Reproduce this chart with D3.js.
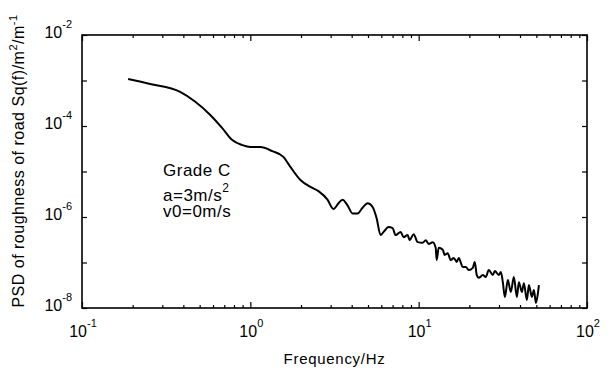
<!DOCTYPE html>
<html>
<head>
<meta charset="utf-8">
<script src="https://cdn.jsdelivr.net/npm/d3@7"></script>
<style>
  body { margin: 0; background: #fff; overflow: hidden; }
  svg { display: block; }
  text { font-family: "Liberation Sans", Arial, sans-serif; fill: #000; }
</style>
</head>
<body>
<div class="chart"></div>
<script>
const width = 611
const height = 369

// frequency (Hz) and PSD values
const freq = [0.188, 0.254, 0.383, 0.471, 0.578, 0.681, 0.781, 0.896, 1.00, 1.147,
    1.352, 1.572, 1.730, 1.984, 2.276, 2.540, 2.873, 3.119, 3.341, 3.528,
    3.780, 4.047, 4.335, 4.642, 4.972, 5.324, 5.623, 5.939, 6.188, 6.628,
    7.000, 7.297, 7.814, 8.142, 8.600, 8.839, 9.337, 9.863, 10.56, 11.01,
    11.47, 12.12, 12.62, 12.80, 13.15, 13.90, 14.28, 14.88, 15.51, 16.16,
    16.84, 17.30, 18.28, 19.05, 19.84, 20.96, 21.54, 22.14, 22.76, 24.04,
    25.05, 26.10, 27.57, 28.34, 29.94, 30.77, 31.62, 32.50, 33.87, 35.28,
    36.77, 38.31, 39.38, 41.04, 42.17, 43.96, 45.17, 47.06, 48.37, 49.72,
    51.09, 51.80]

const psd = [1.08e-3, 8.4e-4, 5.6e-4, 3.4e-4, 1.75e-4, 9.0e-5, 4.9e-5, 3.8e-5, 3.45e-5, 3.45e-5,
    2.8e-5, 2.1e-5, 1.26e-5, 6.5e-6, 4.6e-6, 3.7e-6, 2.4e-6, 1.5e-6, 2.0e-6, 2.4e-6,
    1.8e-6, 1.2e-6, 1.2e-6, 1.6e-6, 2.0e-6, 1.66e-6, 9.5e-7, 4.0e-7, 4.7e-7, 6.0e-7,
    5.7e-7, 4.0e-7, 4.7e-7, 3.6e-7, 4.0e-7, 3.1e-7, 4.2e-7, 2.8e-7, 2.7e-7, 3.1e-7,
    2.55e-7, 2.8e-7, 2.1e-7, 1.13e-7, 2.1e-7, 1.9e-7, 1.46e-7, 1.6e-7, 1.13e-7, 1.26e-7,
    1.03e-7, 1.26e-7, 8.0e-8, 8.0e-8, 6.8e-8, 7.6e-8, 1.03e-7, 5.3e-8, 4.6e-8, 5.3e-8,
    4.8e-8, 6.8e-8, 5.3e-8, 6.5e-8, 5.3e-8, 6.2e-8, 3.7e-8, 1.75e-8, 4.1e-8, 2.25e-8,
    4.8e-8, 1.75e-8, 3.7e-8, 2.25e-8, 3.5e-8, 1.5e-8, 3.2e-8, 1.75e-8, 2.5e-8, 1.29e-8,
    2.1e-8, 3.2e-8]

const xMajor = [0.1, 1, 10, 100]
const xExp = ["-1", "0", "1", "2"]
const yMajor = [1e-8, 1e-7, 1e-6, 1e-5, 1e-4, 1e-3, 1e-2]
const yLabeled = [1e-8, 1e-6, 1e-4, 1e-2]
const yExp = ["-8", "-6", "-4", "-2"]
const notes = ["Grade C", "a=3m/s", "v0=0m/s"]

const data = freq.map((f, i) => ({f: f, s: psd[i]}))

const margin = {top: 35, right: 24, bottom: 61, left: 82}
const innerWidth = width - margin.left - margin.right
const innerHeight = height - margin.top - margin.bottom

const svg = d3.select(".chart")
    .append("svg")
    .attr("width", width)
    .attr("height", height)

// scales in page coordinates, so all texts can sit directly in the svg
const xScale = d3.scaleLog()
    .domain([0.1, 100])
    .range([margin.left, margin.left + innerWidth])

const yScale = d3.scaleLog()
    .domain([1e-8, 1e-2])
    .range([margin.top + innerHeight, margin.top])

// minor x ticks 2..9 in every decade
const xMinor = []
xMajor.slice(0, 3).forEach(d => {
    for (let k = 2; k <= 9; k++) xMinor.push(d * k)
})

// ticks point inward, on all four sides
const tickStyle = sel => {
    sel.select("path.domain").remove()
    sel.selectAll(".tick text").remove()
    sel.selectAll(".tick line").attr("stroke", "#000").attr("stroke-width", 1.2)
}

const bottom = margin.top + innerHeight
const right = margin.left + innerWidth

svg.append("g").attr("transform", `translate(0, ${bottom})`)
    .call(d3.axisBottom(xScale).tickValues(xMajor).tickSize(-6)).call(tickStyle)
svg.append("g").attr("transform", `translate(0, ${bottom})`)
    .call(d3.axisBottom(xScale).tickValues(xMinor).tickSize(-3)).call(tickStyle)
svg.append("g").attr("transform", `translate(0, ${margin.top})`)
    .call(d3.axisTop(xScale).tickValues(xMajor).tickSize(-6)).call(tickStyle)
svg.append("g").attr("transform", `translate(0, ${margin.top})`)
    .call(d3.axisTop(xScale).tickValues(xMinor).tickSize(-3)).call(tickStyle)
svg.append("g").attr("transform", `translate(${margin.left}, 0)`)
    .call(d3.axisLeft(yScale).tickValues(yMajor).tickSize(-5)).call(tickStyle)
svg.append("g").attr("transform", `translate(${right}, 0)`)
    .call(d3.axisRight(yScale).tickValues(yMajor).tickSize(-5)).call(tickStyle)

svg.append("rect")
    .attr("x", margin.left)
    .attr("y", margin.top)
    .attr("width", innerWidth)
    .attr("height", innerHeight)
    .attr("fill", "none")
    .attr("stroke", "#000")
    .attr("stroke-width", 1.6)

// x tick labels
const xl = svg.selectAll(".xlab")
    .data(xMajor)
    .enter().append("text")
        .attr("class", "xlab")
        .attr("x", d => xScale(d) + 1)
        .attr("y", bottom + 29)
        .attr("text-anchor", "middle")
        .style("font-size", "16px")
xl.append("tspan").text("10")
xl.append("tspan")
    .attr("dy", -10)
    .style("font-size", "11px")
    .text((d, i) => xExp[i])

// y tick labels
const yl = svg.selectAll(".ylab")
    .data(yLabeled)
    .enter().append("text")
        .attr("class", "ylab")
        .attr("x", margin.left - 10)
        .attr("y", d => yScale(d) + 3)
        .attr("text-anchor", "end")
        .style("font-size", "16px")
yl.append("tspan").text("10")
yl.append("tspan")
    .attr("dy", -10)
    .style("font-size", "11px")
    .text((d, i) => yExp[i])

const line = d3.line()
    .x(d => xScale(d.f))
    .y(d => yScale(d.s))
    .curve(d3.curveMonotoneX)

svg.append("path")
    .datum(data)
    .attr("fill", "none")
    .attr("stroke", "#000")
    .attr("stroke-width", 2)
    .attr("stroke-linejoin", "round")
    .attr("d", line)

// annotation
const noteX = 163
svg.append("text")
    .attr("x", noteX)
    .attr("y", 176)
    .style("font-size", "17px")
    .style("letter-spacing", "0.5px")
    .text(notes[0])
const accel = svg.append("text")
    .attr("x", noteX)
    .attr("y", 201)
    .style("font-size", "17px")
    .style("letter-spacing", "0.5px")
accel.append("tspan").text(notes[1])
accel.append("tspan").attr("dy", -9).style("font-size", "12px").text("2")
svg.append("text")
    .attr("x", noteX)
    .attr("y", 217)
    .style("font-size", "17px")
    .style("letter-spacing", "0.5px")
    .text(notes[2])

// axis titles
svg.append("text")
    .attr("x", margin.left + innerWidth / 2)
    .attr("y", 364)
    .attr("text-anchor", "middle")
    .style("font-size", "15px")
    .style("letter-spacing", "0.7px")
    .text("Frequency/Hz")

const yt = svg.append("text")
    .attr("transform", `translate(24, 161) rotate(-90)`)
    .attr("text-anchor", "middle")
    .style("font-size", "16px")
    .style("letter-spacing", "0.5px")
yt.append("tspan").text("PSD of roughness of road Sq(f)/m")
yt.append("tspan").attr("dy", -7).style("font-size", "11px").text("2")
yt.append("tspan").attr("dy", 7).text("/m")
yt.append("tspan").attr("dy", -7).style("font-size", "11px").text("-1")
</script>
</body>
</html>
